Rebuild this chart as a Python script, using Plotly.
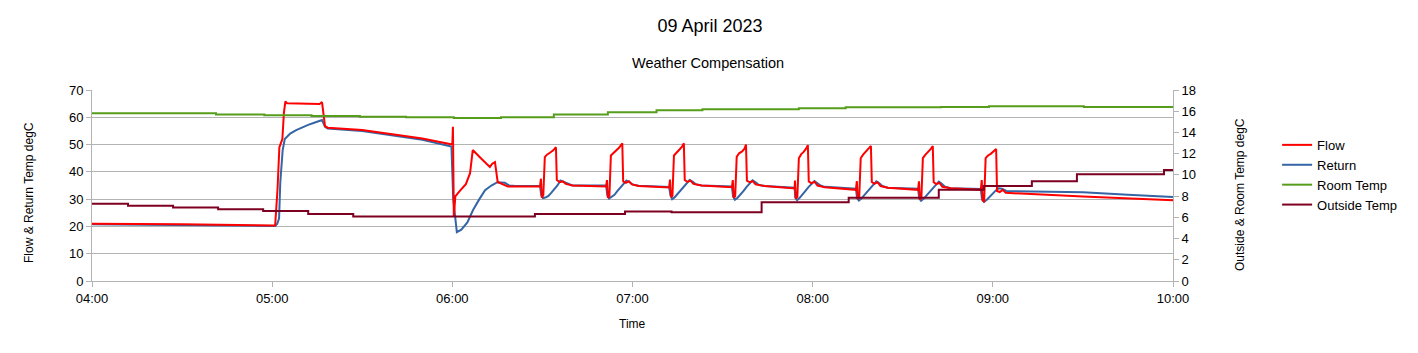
import pandas as pd
import plotly.graph_objects as go

BASE = pd.Timestamp("2023-04-09 04:00")

# ---- data (minutes after 04:00, value) ----
flow_min = [0, 30, 60, 61.0, 61.8, 62.4, 62.9, 63.4, 63.9, 64.4, 65.0, 70, 75.8, 76.6, 77.6, 78.5, 90, 100, 110, 120.0,
            120.2, 120.5, 121.0, 122.5, 124.5, 125.9, 126.4, 126.8, 129.5, 132.5, 133.3, 134.2, 135.1, 136.5, 138.5,
            149.2, 149.5, 149.8, 150.3, 150.8, 151.5, 152.5, 153.5, 154.5, 154.8, 155.8, 156.8, 157.8, 160, 171.2,
            171.5, 171.8, 172.3, 172.8, 173.5, 174.5, 175.5, 176.6, 176.9, 177.8, 178.8, 179.8, 182, 192.2,
            192.5, 192.8, 193.3, 193.8, 194.5, 195.5, 196.5, 197.1, 197.4, 198.3, 199.3, 200.3, 203, 213.1,
            213.4, 213.7, 214.2, 214.7, 215.5, 216.5, 217.3, 217.8, 218.1, 219, 220, 221, 224, 234.0,
            234.1, 234.4, 234.9, 235.4, 236.2, 237.0, 237.8, 238.4, 238.7, 239.6, 240.6, 241.6, 244, 254.4,
            254.7, 255.0, 255.5, 256.0, 256.8, 257.6, 258.5, 259.4, 259.7, 260.6, 261.6, 262.6, 265, 275.1,
            275.4, 275.7, 276.2, 276.7, 277.5, 278.3, 279.2, 280.0, 280.3, 281.2, 282.2, 283.2, 286, 296.0,
            296.3, 296.6, 297.1, 297.6, 298.4, 299.3, 300.3, 301.1, 301.4, 302.3, 303.3, 304.3, 330, 360]
flow_val = [21.0, 20.8, 20.3, 20.4, 34.0, 49.0, 50.5, 52.0, 61.5, 65.8, 65.1, 65.0, 64.9, 65.6, 56.8, 56.2, 55.3, 53.8, 52.2, 50.0,
            56.5, 23.5, 31.0, 33.0, 35.5, 39.5, 45.5, 48.0, 45.0, 41.8, 43.0, 43.6, 36.3, 35.5, 34.6,
            34.7, 37.5, 30.5, 31.5, 45.4, 46.3, 47.0, 47.8, 49.0, 37.0, 36.2, 36.5, 35.6, 35.0, 34.6,
            37.0, 30.5, 31.0, 46.0, 46.8, 47.8, 48.8, 50.5, 36.5, 36.0, 36.6, 35.4, 34.8, 34.3,
            37.2, 30.8, 31.2, 46.0, 47.0, 48.0, 49.2, 50.5, 37.0, 36.3, 36.8, 35.6, 35.0, 34.4,
            37.0, 30.5, 31.0, 45.5, 46.8, 47.5, 48.5, 50.0, 36.8, 36.2, 36.6, 35.4, 34.8, 33.9,
            36.8, 30.2, 30.8, 45.0, 46.5, 47.3, 48.5, 49.8, 36.5, 35.8, 36.4, 35.0, 34.4, 33.4,
            36.6, 30.0, 30.6, 45.0, 46.3, 47.2, 48.2, 49.5, 36.3, 35.6, 36.2, 34.8, 34.2, 33.4,
            36.5, 29.8, 30.4, 45.0, 46.2, 47.0, 48.2, 49.5, 36.2, 35.5, 36.0, 34.5, 34.0, 33.4,
            37.0, 29.5, 29.2, 45.0, 46.0, 46.6, 47.5, 48.4, 33.0, 32.6, 33.4, 32.3, 31.0, 29.6]

return_min = [0, 30, 60, 61.0, 61.7, 62.3, 62.7, 63.0, 63.5, 64.2, 66, 68, 70, 72, 74, 76, 76.6, 77.6, 78.5, 90, 100, 110, 119.7,
              120.3, 121.5, 123, 125, 126.9, 129, 130.9, 133, 135, 137.5, 139, 141,
              149.2, 149.6, 150.2, 151.0, 152.0, 153.0, 154.0, 155.0, 156.0, 156.8, 157.8, 160, 171.2,
              171.6, 172.2, 173, 174, 175, 176, 177, 178, 179, 180, 182, 192.2,
              192.6, 193.2, 194, 195, 196, 197, 198, 199, 200, 201, 203, 213.1,
              213.5, 214.1, 215, 216, 217, 218, 219, 220, 221, 222, 224, 234.0,
              234.2, 234.8, 235.6, 236.6, 237.6, 238.6, 239.6, 240.6, 241.6, 242.6, 244, 254.4,
              254.8, 255.4, 256.2, 257.2, 258.2, 259.2, 260.2, 261.2, 262.2, 263.2, 265, 275.1,
              275.5, 276.1, 277, 278, 279, 280, 281, 282, 283, 284, 286, 296.0,
              296.4, 297.0, 298, 299, 300, 301, 302, 303, 304.5, 315, 330, 345, 360]
return_val = [20.8, 20.6, 20.2, 20.2, 21.0, 23.0, 36.0, 40.0, 48.0, 52.0, 54.0, 55.3, 56.3, 57.2, 58.0, 58.6, 59.0, 56.5, 55.9, 55.0, 53.5, 51.8, 49.3,
              30.0, 17.9, 18.8, 21.5, 26.0, 30.0, 33.3, 35.0, 36.2, 36.0, 35.0, 34.8,
              34.8, 31.5, 30.4, 30.6, 31.2, 32.4, 33.6, 35.0, 36.8, 36.4, 35.8, 35.0, 35.0,
              31.5, 30.2, 30.8, 31.6, 33.0, 34.2, 35.4, 36.8, 36.2, 35.4, 34.9, 34.5,
              31.6, 30.0, 30.6, 31.8, 33.0, 34.4, 35.6, 37.0, 36.4, 35.5, 35.0, 34.6,
              31.0, 29.8, 30.5, 31.6, 33.0, 34.5, 35.6, 36.9, 36.2, 35.3, 34.8, 34.2,
              30.6, 29.6, 30.4, 31.6, 33.0, 34.4, 35.5, 36.6, 35.8, 35.0, 34.5, 33.8,
              30.4, 29.5, 30.2, 31.5, 32.8, 34.2, 35.3, 36.5, 35.8, 34.8, 34.2, 33.8,
              30.3, 29.4, 30.2, 31.4, 32.8, 34.2, 35.2, 36.4, 35.6, 34.6, 34.0, 33.7,
              30.0, 29.0, 29.8, 31.0, 32.2, 33.2, 34.0, 33.8, 33.0, 32.8, 32.5, 31.6, 30.8]

room_min = [0, 41.3, 57.4, 73.1, 89.2, 104.6, 120.5, 136.2, 153.8, 171.8, 188, 203.3, 235.4, 251, 282.7, 298.7, 330.3, 360]
room_val = [15.8, 15.68, 15.62, 15.55, 15.49, 15.43, 15.36, 15.43, 15.68, 15.9, 16.09, 16.18, 16.28, 16.37, 16.4, 16.46, 16.4, 16.4]

outside_min = [0, 12, 27, 42, 57, 72, 87, 147.5, 177.5, 193, 223, 252, 282, 297, 313, 328, 357, 360]
outside_val = [7.27, 7.1, 6.93, 6.76, 6.6, 6.32, 6.09, 6.32, 6.55, 6.48, 7.42, 7.85, 8.6, 8.95, 9.4, 10.05, 10.45, 10.45]


def ts(mins):
    return BASE + pd.to_timedelta(mins, unit="m")


FONT = "Liberation Sans, Arial, sans-serif"
fig = go.Figure()

fig.add_trace(go.Scatter(x=ts(return_min), y=return_val, name="Return", mode="lines",
                         line=dict(color="#3465a4", width=2), legendrank=2))
fig.add_trace(go.Scatter(x=ts(flow_min), y=flow_val, name="Flow", mode="lines",
                         line=dict(color="#ff0000", width=2), legendrank=1))
fig.add_trace(go.Scatter(x=ts(room_min), y=room_val, name="Room Temp", mode="lines", yaxis="y2",
                         line=dict(color="#579d1c", width=2, shape="hv"), legendrank=3))
fig.add_trace(go.Scatter(x=ts(outside_min), y=outside_val, name="Outside Temp", mode="lines", yaxis="y2",
                         line=dict(color="#7e0021", width=2, shape="hv"), legendrank=4))

axis_common = dict(showline=True, linecolor="#b3b3b3", linewidth=1, ticks="outside", ticklen=5,
                   tickcolor="#b3b3b3", tickfont=dict(size=13, color="#000000", family=FONT), zeroline=False)

fig.update_layout(
    width=1418, height=353,
    margin=dict(l=92, r=245, t=90, b=72),
    paper_bgcolor="white", plot_bgcolor="white",
    font=dict(family=FONT, color="#000000"),
    showlegend=True,
    legend=dict(x=1.0963, xanchor="left", y=0.791, yanchor="top", font=dict(size=13, family=FONT),
                bgcolor="rgba(0,0,0,0)", tracegroupgap=0),
    title=dict(text="09 April 2023", x=0.5007, xanchor="center", xref="container",
               y=1 - 26 / 353, yanchor="middle", yref="container", font=dict(size=18, family=FONT)),
    xaxis=dict(type="date", range=[ts(0), ts(360)], dtick=3600000, tick0=ts(0), tickformat="%H:%M",
               showgrid=False, **axis_common),
    yaxis=dict(range=[0, 70], dtick=10, showgrid=True, gridcolor="#b3b3b3", gridwidth=1, **axis_common),
    yaxis2=dict(range=[0, 18], dtick=2, overlaying="y", side="right", showgrid=False, **axis_common),
    annotations=[
        dict(text="Weather Compensation", xref="paper", yref="paper", x=(708 - 92) / 1081, y=(281 - 63) / 191,
             xanchor="center", yanchor="middle", showarrow=False, font=dict(size=14.5, family=FONT)),
        dict(text="Flow & Return Temp degC", xref="paper", yref="paper", x=(29 - 92) / 1081, y=(281 - 193) / 191,
             xanchor="center", yanchor="middle", textangle=-90, showarrow=False, font=dict(size=12, family=FONT)),
        dict(text="Outside & Room Temp degC", xref="paper", yref="paper", x=(1240 - 92) / 1081, y=(281 - 195) / 191,
             xanchor="center", yanchor="middle", textangle=-90, showarrow=False, font=dict(size=12, family=FONT)),
        dict(text="Time", xref="paper", yref="paper", x=(632 - 92) / 1081, y=(281 - 324) / 191,
             xanchor="center", yanchor="middle", showarrow=False, font=dict(size=12, family=FONT)),
    ],
)

fig.write_html("out.html")
